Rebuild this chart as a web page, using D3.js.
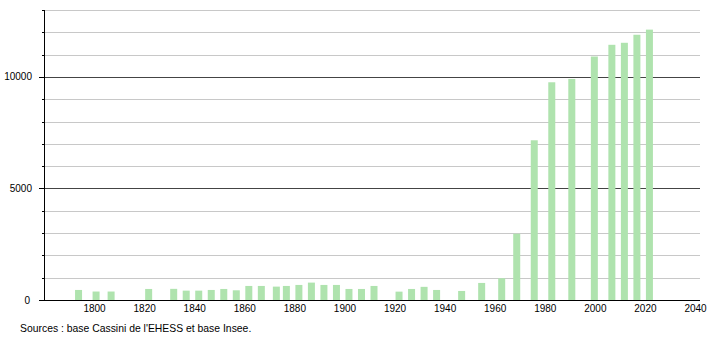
<!DOCTYPE html>
<html>
<head>
<meta charset="utf-8">
<script src="https://cdn.jsdelivr.net/npm/d3@7"></script>
<style>
  body { margin: 0; background: #fff; }
  svg text { font-family: "Liberation Sans", Arial, sans-serif; font-size: 10px; fill: #000; }
  svg text.source { font-size: 10.4px; }
</style>
</head>
<body>
<div id="chart"></div>
<script>
// années de recensement
const years = [1793, 1800, 1806, 1821, 1831, 1836, 1841, 1846, 1851, 1856,
  1861, 1866, 1872, 1876, 1881, 1886, 1891, 1896, 1901, 1906,
  1911, 1921, 1926, 1931, 1936, 1946, 1954, 1962, 1968, 1975,
  1982, 1990, 1999, 2006, 2011, 2016, 2021];
// population
const population = [450, 380, 380, 495, 500, 420, 420, 450, 495, 435,
  630, 630, 600, 630, 675, 780, 675, 675, 495, 495,
  630, 375, 495, 590, 450, 405, 765, 975, 2970, 7160,
  9760, 9910, 10915, 11440, 11530, 11890, 12120];
const yearTicks = [1800, 1820, 1840, 1860, 1880, 1900, 1920, 1940, 1960, 1980, 2000, 2020, 2040];
const popMajor = [0, 5000, 10000];
const popMinor = d3.range(1000, 14000, 1000);
const source = "Sources : base Cassini de l'EHESS et base Insee.";

const width = 710, height = 340;
const mLeft = 44, mRight = 700, mTop = 10, mBottom = 300;

const svg = d3.select("#chart").append("svg")
  .attr("width", width)
  .attr("height", height);

const x = d3.scaleLinear().domain([1780, 2040]).range([46, 697]);
const y = d3.scaleLinear().domain([0, 13000]).range([mBottom, mTop]);

// lignes de grille
svg.append("g").selectAll("line")
  .data(popMinor)
  .enter().append("line")
  .attr("x1", mLeft).attr("x2", mRight)
  .attr("y1", d => Math.round(y(d)) + 0.5)
  .attr("y2", d => Math.round(y(d)) + 0.5)
  .attr("stroke", d => d % 5000 === 0 ? "#444" : "#c8c8c8")
  .attr("stroke-width", 1);

// barres
svg.append("g").selectAll("rect")
  .data(years)
  .enter().append("rect")
  .attr("x", (d) => x(d) - 3.5)
  .attr("width", 7)
  .attr("y", (d, i) => y(population[i]))
  .attr("height", (d, i) => mBottom - y(population[i]))
  .attr("fill", "#afe3ae");

// axe vertical
const yAxis = svg.append("g");
yAxis.append("line")
  .attr("x1", mLeft + 0.5).attr("x2", mLeft + 0.5)
  .attr("y1", mTop).attr("y2", mBottom)
  .attr("stroke", "#000");
yAxis.selectAll(".minor")
  .data(popMinor)
  .enter().append("line")
  .attr("x1", mLeft - 2).attr("x2", mLeft)
  .attr("y1", d => Math.round(y(d)) + 0.5)
  .attr("y2", d => Math.round(y(d)) + 0.5)
  .attr("stroke", "#000");
yAxis.selectAll(".major")
  .data(popMajor)
  .enter().append("line")
  .attr("x1", mLeft - 5).attr("x2", mLeft)
  .attr("y1", d => Math.round(y(d)) + 0.5)
  .attr("y2", d => Math.round(y(d)) + 0.5)
  .attr("stroke", "#000");
yAxis.selectAll("text")
  .data(popMajor)
  .enter().append("text")
  .attr("x", d => d === 0 ? 30 : 32)
  .attr("y", d => y(d) + 3.5)
  .attr("text-anchor", "end")
  .text(d => d);

// axe horizontal
svg.append("line")
  .attr("x1", mLeft).attr("x2", mRight)
  .attr("y1", mBottom + 0.5).attr("y2", mBottom + 0.5)
  .attr("stroke", "#000");
svg.append("g").selectAll("text")
  .data(yearTicks)
  .enter().append("text")
  .attr("x", d => x(d) - 1.5)
  .attr("y", 312)
  .attr("text-anchor", "middle")
  .text(d => d);

svg.append("text")
  .attr("class", "source")
  .attr("x", 20)
  .attr("y", 332)
  .text(source);
</script>
</body>
</html>
